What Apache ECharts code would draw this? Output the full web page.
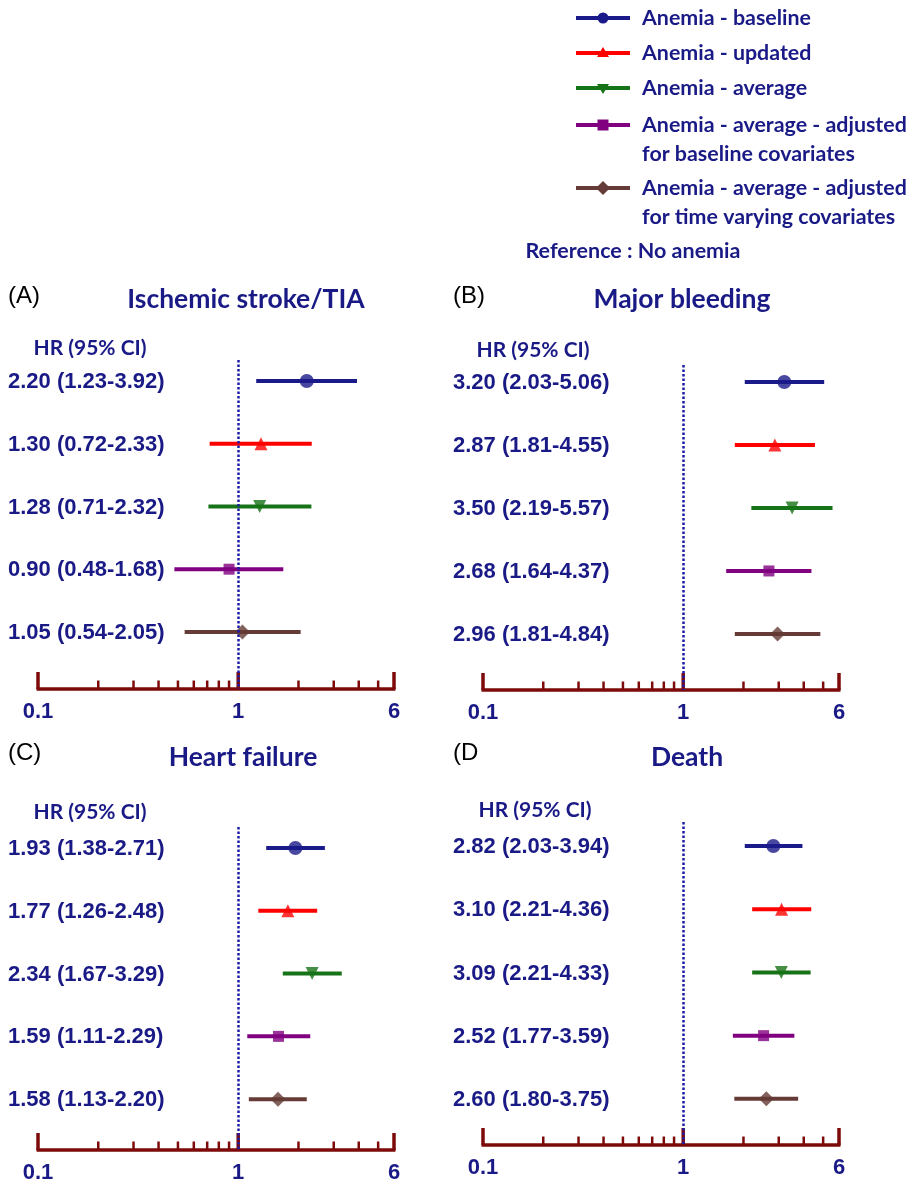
<!DOCTYPE html>
<html>
<head>
<meta charset="utf-8">
<script src="https://cdn.jsdelivr.net/npm/echarts@6/dist/echarts.min.js"></script>
<style>
  html, body { margin: 0; padding: 0; background: #fff; }
  #main { width: 919px; height: 1186px; }
</style>
</head>
<body>
<div id="main"></div>
<script>
// rows (same order in every panel)
var rowNames = [
  'Anemia - baseline',
  'Anemia - updated',
  'Anemia - average',
  'Anemia - average - adjusted\nfor baseline covariates',
  'Anemia - average - adjusted\nfor time varying covariates'
];
var rowColors = ['#1a1a8a', '#ff0000', '#177317', '#800080', '#643b36'];
var rowSymbols = ['circle', 'triangle', 'triangle', 'rect', 'diamond'];
var rowRotate = [0, 0, 180, 0, 0];
var rowSizes = [14, 13, 13, 11, 15];

var panelLetters = ['(A)', '(B)', '(C)', '(D'];
var panelTitles = ['Ischemic stroke/TIA', 'Major bleeding', 'Heart failure', 'Death'];

// hazard ratios with 95% CI
var strokeHR = [2.20, 1.30, 1.28, 0.90, 1.05];
var strokeLo = [1.23, 0.72, 0.71, 0.48, 0.54];
var strokeHi = [3.92, 2.33, 2.32, 1.68, 2.05];

var bleedHR = [3.20, 2.87, 3.50, 2.68, 2.96];
var bleedLo = [2.03, 1.81, 2.19, 1.64, 1.81];
var bleedHi = [5.06, 4.55, 5.57, 4.37, 4.84];

var hfHR = [1.93, 1.77, 2.34, 1.59, 1.58];
var hfLo = [1.38, 1.26, 1.67, 1.11, 1.13];
var hfHi = [2.71, 2.48, 3.29, 2.29, 2.20];

var deathHR = [2.82, 3.10, 3.09, 2.52, 2.60];
var deathLo = [2.03, 2.21, 2.21, 1.77, 1.80];
var deathHi = [3.94, 4.36, 4.33, 3.59, 3.75];

// x axis ticks (log scale)
var tickValues = [0.1, 0.2, 0.3, 0.4, 0.5, 0.6, 0.7, 0.8, 0.9, 1, 2, 3, 4, 5, 6];
var majorTicks = [0.1, 1, 6];
var majorLabels = ['0.1', '1', '6'];

var panels = [
  {hr: strokeHR, lo: strokeLo, hi: strokeHi},
  {hr: bleedHR, lo: bleedLo, hi: bleedHi},
  {hr: hfHR, lo: hfLo, hi: hfHi},
  {hr: deathHR, lo: deathLo, hi: deathHi}
];

// panel geometry (pixels)
var grids = [
  {left: 38, top: 360, width: 356, height: 329, rowMin: -0.335, rowMax: 4.91},
  {left: 483, top: 365, width: 356, height: 325, rowMin: -0.27, rowMax: 4.89},
  {left: 38, top: 827, width: 356, height: 323, rowMin: -0.335, rowMax: 4.81},
  {left: 483, top: 822, width: 356, height: 323, rowMin: -0.38, rowMax: 4.73}
];
var headPos = [
  {lx: 8, ly: 298, tx: 246, ty: 299, hx: 90, hy: 348},
  {lx: 453, ly: 298, tx: 682, ty: 299, hx: 533, hy: 350},
  {lx: 8, ly: 755, tx: 243, ty: 757, hx: 90, hy: 812},
  {lx: 453, ly: 755, tx: 687, ty: 757, hx: 535, hy: 810}
];

var navy = '#1a1a87';
var axisRed = '#7d0a0a';
var boldSans = '"Liberation Sans", Arial, sans-serif';
var calib = 'Lato, "Open Sans", sans-serif';

var chart = echarts.init(document.getElementById('main'));

function renderCI(params, api) {
  var row = api.value(2);
  var p0 = api.coord([api.value(0), row]);
  var p1 = api.coord([api.value(1), row]);
  var x0 = params.coordSys.x;
  var txt = api.value(3).toFixed(2) + ' (' + api.value(0).toFixed(2) + '-' + api.value(1).toFixed(2) + ')';
  return {
    type: 'group',
    children: [
      {type: 'line', shape: {x1: p0[0], y1: p0[1], x2: p1[0], y2: p1[1]},
        style: {stroke: rowColors[row], lineWidth: 4}},
      {type: 'text', x: x0 - 30, y: p0[1] + 1,
        style: {text: txt, fill: navy, font: 'bold 22px ' + boldSans,
          textAlign: 'left', textVerticalAlign: 'middle'}}
    ]
  };
}

function renderAxis(params, api) {
  var v = api.value(0);
  var cs = params.coordSys;
  var bottom = cs.y + cs.height;
  var x = api.coord([v, 0])[0];
  var k = majorTicks.indexOf(v);
  var children = [];
  if (params.dataIndex === 0) {
    children.push({type: 'line', shape: {x1: cs.x - 1.5, y1: bottom, x2: cs.x + cs.width + 1.5, y2: bottom},
      style: {stroke: axisRed, lineWidth: 3.5}});
  }
  children.push({type: 'line', shape: {x1: x, y1: bottom, x2: x, y2: bottom - (k >= 0 ? 17 : 8.5)},
    style: {stroke: axisRed, lineWidth: k >= 0 ? 3.5 : 2.5}});
  if (k >= 0) {
    children.push({type: 'text', x: x, y: bottom + 23,
      style: {text: majorLabels[k], fill: navy, font: 'bold 22px ' + boldSans,
        textAlign: 'center', textVerticalAlign: 'middle'}});
  }
  return {type: 'group', children: children};
}

var gridOpt = [], xAxes = [], yAxes = [], series = [], graphics = [];

panels.forEach(function (p, i) {
  var g = grids[i];
  gridOpt.push({left: g.left, top: g.top, width: g.width, height: g.height});
  xAxes.push({type: 'log', logBase: 10, min: 0.1, max: 6, gridIndex: i, show: false});
  yAxes.push({type: 'value', inverse: true, min: g.rowMin, max: g.rowMax, gridIndex: i, show: false});

  var ciData = p.hr.map(function (h, r) { return [p.lo[r], p.hi[r], r, h]; });
  series.push({
    type: 'custom', xAxisIndex: i, yAxisIndex: i, renderItem: renderCI,
    encode: {x: [0, 1], y: 2}, data: ciData, silent: true, z: 2
  });
  series.push({
    type: 'scatter', xAxisIndex: i, yAxisIndex: i, z: 3, silent: true,
    data: p.hr.map(function (h, r) {
      return {value: [h, r], symbol: rowSymbols[r], symbolRotate: rowRotate[r],
        symbolSize: rowSizes[r], itemStyle: {color: rowColors[r]}};
    }),
    markLine: {
      silent: true, symbol: 'none', label: {show: false},
      lineStyle: {color: '#1c1ca8', type: [2.5, 2], width: 2.5, opacity: 1},
      data: [{xAxis: 1}]
    }
  });
  series.push({
    type: 'custom', xAxisIndex: i, yAxisIndex: i, renderItem: renderAxis,
    encode: {x: 0}, data: tickValues.map(function (v) { return [v]; }), silent: true, z: 4
  });

  var h = headPos[i];
  graphics.push({type: 'text', left: h.lx, top: h.ly - 14,
    style: {text: panelLetters[i], fill: '#000', font: '24px ' + boldSans}});
  graphics.push({type: 'text', x: h.tx, y: h.ty,
    style: {text: panelTitles[i], fill: navy, font: 'bold 26.5px ' + calib,
      textAlign: 'center', textVerticalAlign: 'middle'}});
  graphics.push({type: 'text', x: h.hx, y: h.hy,
    style: {text: 'HR (95% CI)', fill: navy, font: 'bold 21px ' + calib,
      textAlign: 'center', textVerticalAlign: 'middle'}});
});

// legend (drawn as keys + text)
var legY = [18, 53, 88, 125, 188];
rowNames.forEach(function (name, r) {
  var y = legY[r], cx = 603, col = rowColors[r];
  var marker;
  if (r === 0) {
    marker = {type: 'circle', shape: {cx: cx, cy: y, r: 5.5}, style: {fill: col}};
  } else if (r === 1) {
    marker = {type: 'polygon', shape: {points: [[cx - 6, y + 4], [cx + 6, y + 4], [cx, y - 6]]}, style: {fill: col}};
  } else if (r === 2) {
    marker = {type: 'polygon', shape: {points: [[cx - 6, y - 4], [cx + 6, y - 4], [cx, y + 6]]}, style: {fill: col}};
  } else if (r === 3) {
    marker = {type: 'rect', shape: {x: cx - 5.5, y: y - 5.5, width: 11, height: 11}, style: {fill: col}};
  } else {
    marker = {type: 'polygon', shape: {points: [[cx - 7, y], [cx, y - 7], [cx + 7, y], [cx, y + 7]]}, style: {fill: col}};
  }
  graphics.push({type: 'line', shape: {x1: 576, y1: y, x2: 630, y2: y}, style: {stroke: col, lineWidth: 4}});
  graphics.push(marker);
  graphics.push({type: 'text', x: 642, y: y - 14,
    style: {text: name, fill: navy, font: 'bold 21.4px ' + calib, lineHeight: 28.5,
      textAlign: 'left', textVerticalAlign: 'top'}});
});
graphics.push({type: 'text', x: 633, y: 251,
  style: {text: 'Reference : No anemia', fill: navy, font: 'bold 21.5px ' + calib,
    textAlign: 'center', textVerticalAlign: 'middle'}});

chart.setOption({
  animation: false,
  backgroundColor: '#fff',
  grid: gridOpt,
  xAxis: xAxes,
  yAxis: yAxes,
  series: series,
  graphic: graphics
});
</script>
</body>
</html>
